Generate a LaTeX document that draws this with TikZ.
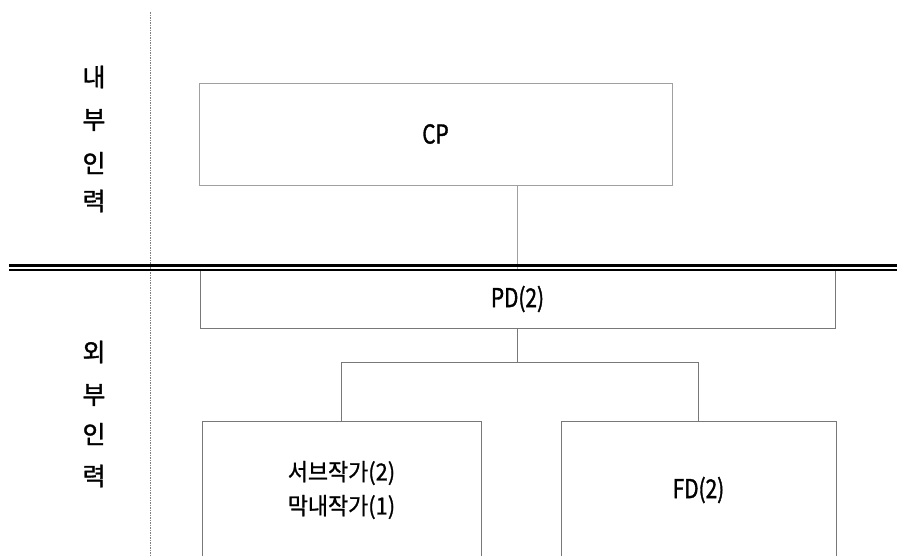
\documentclass[tikz,border=0pt]{standalone}
\usepackage{fontspec}
\setmainfont{Noto Sans CJK KR}
\newfontfamily\krbold[FakeBold=1.3]{Noto Sans CJK KR}
\newfontfamily\krnarrow[FakeStretch=0.8,FakeBold=1.3]{Noto Sans CJK KR}
\newfontfamily\krmid[FakeBold=0.9,FakeStretch=0.93]{Noto Sans CJK KR}
\definecolor{cpgray}{HTML}{A0A0A0}
\definecolor{boxgray}{HTML}{787878}
\definecolor{dotgray}{HTML}{808080}
\tikzset{
  sidelabel/.style={inner sep=0pt, font=\krbold\fontsize{25}{28}\selectfont},
  cpbox/.style={draw=cpgray, line width=1pt, inner sep=0pt},
  orgbox/.style={draw=boxgray, line width=1pt, inner sep=0pt, align=center},
  latin/.style={font=\krnarrow\fontsize{26}{30}\selectfont},
  hangul/.style={font=\krmid\fontsize{23.5}{34}\selectfont},
  conn/.style={draw=boxgray, line width=1pt},
  cpconn/.style={draw=cpgray, line width=1pt},
}
\begin{document}
\begin{tikzpicture}[x=1pt,y=-1pt]
\useasboundingbox (0,0) rectangle (897,555);
\clip (0,0) rectangle (897,555);
% divider
\coordinate (dtop) at (150,12);
\coordinate (dbot) at (150,555);
\draw[dotgray, line width=1pt, dash pattern=on 1.5pt off 1pt] (dtop) -- (dbot);
% side labels
\node[sidelabel] (i1) at (94,77) {내};
\node[sidelabel] (i2) at (94,120) {부};
\node[sidelabel] (i3) at (94,163) {인};
\node[sidelabel] (i4) at (94,201) {력};
\node[sidelabel] (o1) at (94,352) {외};
\node[sidelabel] (o2) at (94,395) {부};
\node[sidelabel] (o3) at (94,434) {인};
\node[sidelabel] (o4) at (94,476) {력};
% boxes
\node[cpbox, latin, minimum width=473pt, minimum height=102pt] (CP) at (435.5,134) {CP};
\node[orgbox, latin, minimum width=635pt, minimum height=58pt] (PD) at (517.5,299) {PD(2)};
\node[orgbox, hangul, minimum width=279pt, minimum height=138pt] (L) at (341.5,490) {서브작가(2)\\막내작가(1)};
\node[orgbox, latin, minimum width=275pt, minimum height=138pt] (R) at (698.5,490) {FD(2)};
% connectors
\draw[cpconn] (PD.north |- CP.south) -- (PD.north);
\coordinate (bus) at (0,362);
\draw[conn] (PD.south) -- (PD.south |- bus);
\draw[conn] (L.north) -- (L.north |- bus) -- (R.north |- bus) -- (R.north);
% double rule
\coordinate (r1a) at (9,265.5);
\coordinate (r1b) at (897,265.5);
\coordinate (r2a) at (9,270);
\coordinate (r2b) at (897,270);
\draw[black, line width=3pt] (r1a) -- (r1b);
\draw[black, line width=2pt] (r2a) -- (r2b);
\end{tikzpicture}
\end{document}
